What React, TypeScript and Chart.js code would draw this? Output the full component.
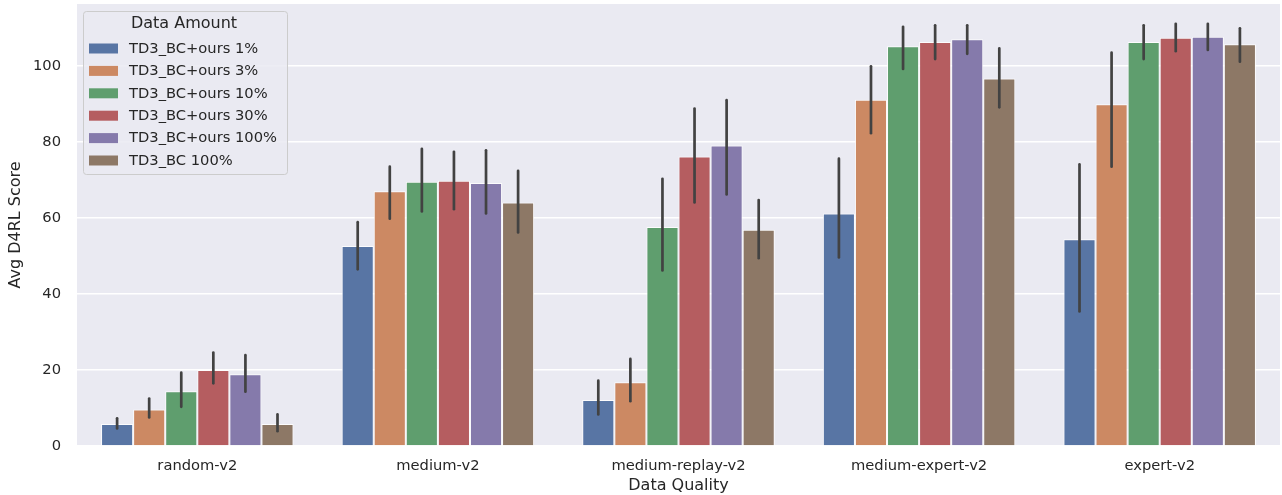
import React, { useEffect, useRef } from "react";
import { Chart, registerables } from "chart.js";

Chart.register(...registerables);

const categories = ["random-v2", "medium-v2", "medium-replay-v2", "medium-expert-v2", "expert-v2"];
const seriesLabels = [
  "TD3_BC+ours 1%",
  "TD3_BC+ours 3%",
  "TD3_BC+ours 10%",
  "TD3_BC+ours 30%",
  "TD3_BC+ours 100%",
  "TD3_BC 100%",
];
const seriesColors = ["#5875A4", "#CC8963", "#5F9E6E", "#B55D60", "#857AAB", "#8D7866"];

const ours1 = [5.8, 52.6, 12.1, 61.2, 54.4];
const ours3 = [9.6, 67.0, 16.8, 91.1, 89.9];
const ours10 = [14.4, 69.5, 57.6, 105.2, 106.3];
const ours30 = [20.0, 69.8, 76.2, 106.3, 107.4];
const ours100 = [18.9, 69.2, 79.1, 107.0, 107.7];
const bc100 = [5.8, 64.1, 56.9, 96.7, 105.7];

const ours1Low = [4.6, 46.5, 8.3, 49.6, 35.4];
const ours1High = [7.3, 58.9, 17.2, 75.6, 74.1];
const ours3Low = [7.5, 59.8, 11.8, 82.3, 73.5];
const ours3High = [12.5, 73.5, 22.9, 99.9, 103.5];
const ours10Low = [10.3, 61.7, 46.2, 99.2, 101.8];
const ours10High = [19.3, 78.2, 70.3, 110.3, 110.7];
const ours30Low = [16.5, 62.3, 64.1, 101.8, 103.9];
const ours30High = [24.6, 77.4, 88.8, 110.7, 111.1];
const ours100Low = [14.3, 61.2, 66.2, 103.2, 104.2];
const ours100High = [23.9, 77.8, 91.0, 110.7, 111.1];
const bc100Low = [3.9, 56.2, 49.4, 89.1, 101.1];
const bc100High = [8.3, 72.4, 64.7, 104.6, 109.9];

const yTicks = [0, 20, 40, 60, 80, 100];

const seriesValues = [ours1, ours3, ours10, ours30, ours100, bc100];
const seriesLow = [ours1Low, ours3Low, ours10Low, ours30Low, ours100Low, bc100Low];
const seriesHigh = [ours1High, ours3High, ours10High, ours30High, ours100High, bc100High];

const FONT = "'DejaVu Sans', sans-serif";
const TEXT = "#262626";
const TICK_SIZE = 14.7;
const LABEL_SIZE = 16;

export default function App() {
  const ref = useRef<HTMLCanvasElement | null>(null);

  useEffect(() => {
    document.body.style.margin = "0";
    const canvas = ref.current;
    if (!canvas) return;

    const bgPlugin = {
      id: "bgPlugin",
      beforeDraw(chart: any) {
        const { ctx, chartArea } = chart;
        ctx.save();
        ctx.fillStyle = "#EAEAF2";
        ctx.fillRect(chartArea.left, chartArea.top, chartArea.right - chartArea.left, chartArea.bottom - chartArea.top);
        ctx.restore();
      },
    };

    const errPlugin = {
      id: "errPlugin",
      afterDatasetsDraw(chart: any) {
        const { ctx } = chart;
        const ys = chart.scales.y;
        ctx.save();
        ctx.strokeStyle = "#424242";
        ctx.lineWidth = 2.7;
        ctx.lineCap = "round";
        chart.data.datasets.forEach((ds: any, i: number) => {
          const meta = chart.getDatasetMeta(i);
          meta.data.forEach((bar: any, j: number) => {
            const lo = ds.errLow[j];
            const hi = ds.errHigh[j];
            ctx.beginPath();
            ctx.moveTo(bar.x, ys.getPixelForValue(lo));
            ctx.lineTo(bar.x, ys.getPixelForValue(hi));
            ctx.stroke();
          });
        });
        ctx.restore();
      },
    };

    const legendPlugin = {
      id: "customLegend",
      afterDraw(chart: any) {
        const { ctx, chartArea } = chart;
        const x0 = chartArea.left + 6;
        const y0 = chartArea.top + 7;
        const w = 204;
        const h = 163;
        ctx.save();
        ctx.fillStyle = "rgba(234,234,242,0.85)";
        ctx.strokeStyle = "#CCCCCC";
        ctx.lineWidth = 1;
        ctx.beginPath();
        (ctx as any).roundRect(x0 + 0.5, y0 + 0.5, w, h, 3);
        ctx.fill();
        ctx.stroke();
        ctx.fillStyle = TEXT;
        ctx.font = `${LABEL_SIZE}px ${FONT}`;
        ctx.textAlign = "center";
        ctx.textBaseline = "middle";
        ctx.fillText("Data Amount", x0 + 101, y0 + 13);
        ctx.font = `${TICK_SIZE}px ${FONT}`;
        ctx.textAlign = "left";
        chart.data.datasets.forEach((ds: any, i: number) => {
          const cy = y0 + 37.5 + i * 22.4;
          ctx.fillStyle = ds.backgroundColor;
          ctx.fillRect(x0 + 6, cy - 5, 29, 10);
          ctx.fillStyle = TEXT;
          ctx.fillText(ds.label, x0 + 46, cy + 0.5);
        });
        ctx.restore();
      },
    };

    const chart = new Chart(canvas, {
      type: "bar",
      data: {
        labels: categories,
        datasets: seriesLabels.map((label, i) => ({
          label,
          data: seriesValues[i],
          errLow: seriesLow[i],
          errHigh: seriesHigh[i],
          backgroundColor: seriesColors[i],
          borderColor: "rgba(255,255,255,0.85)",
          borderWidth: 1,
          categoryPercentage: 0.8,
          barPercentage: 1.0,
        })) as any,
      },
      options: {
        animation: false,
        responsive: false,
        devicePixelRatio: 1,
        layout: { padding: { top: 4, right: 2, left: 0, bottom: 0 } },
        plugins: {
          legend: { display: false },
          tooltip: { enabled: false },
        },
        scales: {
          x: {
            grid: { display: false, drawTicks: false },
            border: { display: false },
            ticks: { padding: 11, color: TEXT, font: { family: FONT, size: TICK_SIZE } },
            title: {
              display: true,
              text: "Data Quality",
              color: TEXT,
              font: { family: FONT, size: LABEL_SIZE },
              padding: { top: 0, bottom: 0 },
            },
            afterFit(scale: any) {
              scale.height = 49;
              scale.paddingLeft = 0;
              scale.paddingRight = 0;
            },
          },
          y: {
            min: 0,
            max: 116.3,
            afterBuildTicks(scale: any) {
              scale.ticks = yTicks.map((v) => ({ value: v }));
            },
            grid: { color: "#FFFFFF", lineWidth: 1.5, drawTicks: false },
            border: { display: false },
            ticks: { padding: 16, color: TEXT, font: { family: FONT, size: TICK_SIZE } },
            title: {
              display: true,
              text: "Avg D4RL Score",
              color: TEXT,
              font: { family: FONT, size: LABEL_SIZE },
              padding: { top: 6, bottom: 0 },
            },
            afterFit(scale: any) {
              scale.width = 77;
              scale.paddingTop = 0;
              scale.paddingBottom = 0;
            },
          },
        },
      },
      plugins: [bgPlugin, errPlugin, legendPlugin],
    });

    return () => chart.destroy();
  }, []);

  return (
    <div style={{ width: 1282, height: 495 }}>
      <canvas ref={ref} width={1282} height={495} />
    </div>
  );
}
